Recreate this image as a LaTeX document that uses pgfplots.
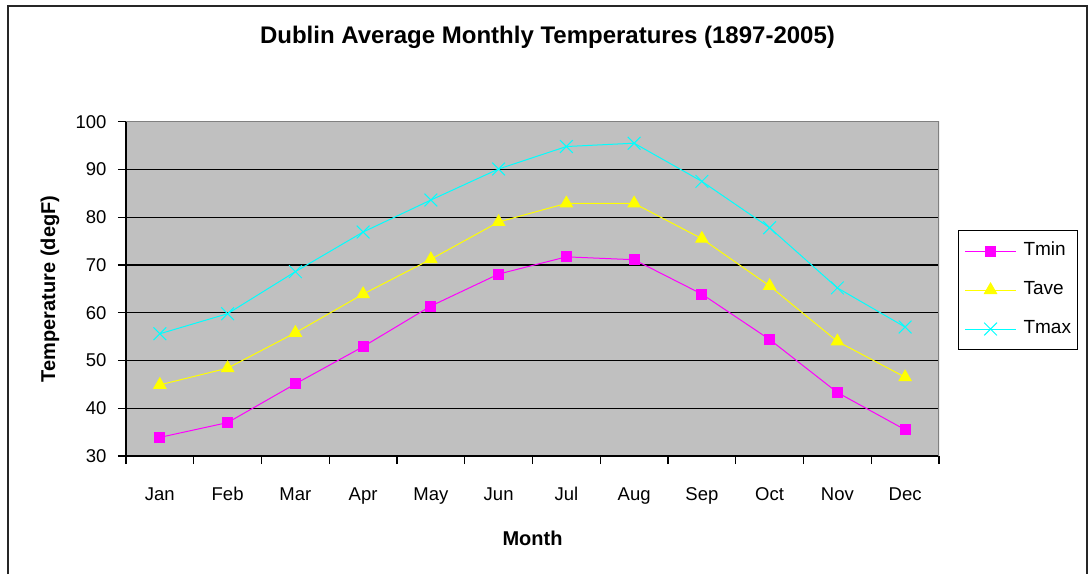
\documentclass[border=0pt]{standalone}
\usepackage{pgfplots}
\pgfplotsset{compat=1.18}
\usepackage{fontspec}
\setmainfont{Liberation Sans}
\definecolor{plotgray}{HTML}{C0C0C0}
\definecolor{bordergray}{HTML}{808080}
\definecolor{xlmag}{HTML}{FF00FF}
\definecolor{xlyel}{HTML}{FFFF00}
\definecolor{xlcyan}{HTML}{00FFFF}
\begin{document}
\begin{tikzpicture}[x=1pt,y=1pt]
\useasboundingbox (0,0) rectangle (1089,574);
\draw[line width=1.5pt,black!85] (8,0) -- (8,568) -- (1087,568) -- (1087,0);
\node[anchor=base,font=\fontsize{24}{28}\selectfont\bfseries] at (547.5,530) {Dublin Average Monthly Temperatures (1897-2005)};
\begin{axis}[
  at={(126pt,118pt)}, anchor=south west,
  scale only axis, width=813pt, height=334.3pt,
  xmin=0.5, xmax=12.5, ymin=30, ymax=100,
  axis background/.style={fill=plotgray},
  axis x line*=bottom, axis y line*=left,
  axis line style={line width=1.3pt,black},
  xtick={0.5,1.5,...,12.5}, xticklabels={},
  extra x ticks={1,2,...,12},
  extra x tick labels={Jan,Feb,Mar,Apr,May,Jun,Jul,Aug,Sep,Oct,Nov,Dec},
  extra x tick style={major tick length=0pt, grid=none},
  ytick={30,40,...,100},
  tick align=outside, major tick length=8pt,
  tick style={line width=1.2pt,black},
  ymajorgrids, major grid style={line width=1.4pt,black},
  /pgf/number format/assume math mode=true,
  ticklabel style={font=\fontsize{18.5}{21}\selectfont},
  xticklabel style={anchor=base, yshift=-44pt},
  yticklabel style={anchor=east, xshift=-8pt},
  xlabel={Month}, ylabel={Temperature (degF)},
  xlabel style={at={(axis description cs:0.5,0)}, anchor=base, yshift=-89pt, font=\fontsize{20}{24}\selectfont\bfseries},
  ylabel style={at={(axis description cs:-0.0873,0.5)}, anchor=base, font=\fontsize{20}{24}\selectfont\bfseries},
  legend style={at={(1.0234,0.676)}, anchor=north west, draw=black, line width=1pt, fill=white,
    inner xsep=6pt, inner ysep=12pt, row sep=22pt, column sep=7pt,
    font=\fontsize{19}{22}\selectfont,
    nodes={inner sep=0pt, text height=13pt, text depth=4pt, anchor=west}},
  legend cell align=left,
  legend image code/.code={\draw[#1,mark repeat=2,mark phase=2] plot coordinates {(0pt,0pt) (25.5pt,0pt) (51pt,0pt)};},
]
\addplot[color=xlmag, line width=1pt, mark=square*, mark size=5pt, mark options={solid,fill=xlmag}]
  coordinates {(1,33.9) (2,37.0) (3,45.1) (4,52.9) (5,61.4) (6,68.1) (7,71.7) (8,71.1) (9,63.9) (10,54.4) (11,43.3) (12,35.5)};
\addlegendentry{Tmin}
\addplot[color=xlyel, line width=1pt, mark=triangle*, mark size=7pt, mark options={solid,fill=xlyel}]
  coordinates {(1,44.9) (2,48.4) (3,55.8) (4,63.9) (5,71.2) (6,79.0) (7,82.9) (8,82.9) (9,75.5) (10,65.6) (11,54.0) (12,46.5)};
\addlegendentry{Tave}
\addplot[color=xlcyan, line width=1pt, mark=x, mark size=9pt, mark options={solid,line width=1pt}]
  coordinates {(1,55.6) (2,59.8) (3,68.6) (4,76.9) (5,83.6) (6,90.1) (7,94.8) (8,95.5) (9,87.5) (10,77.8) (11,65.2) (12,57.0)};
\addlegendentry{Tmax}
\draw[bordergray, line width=1.5pt] (rel axis cs:0,1) -- (rel axis cs:1,1) -- (rel axis cs:1,0);
\end{axis}
\end{tikzpicture}
\end{document}
